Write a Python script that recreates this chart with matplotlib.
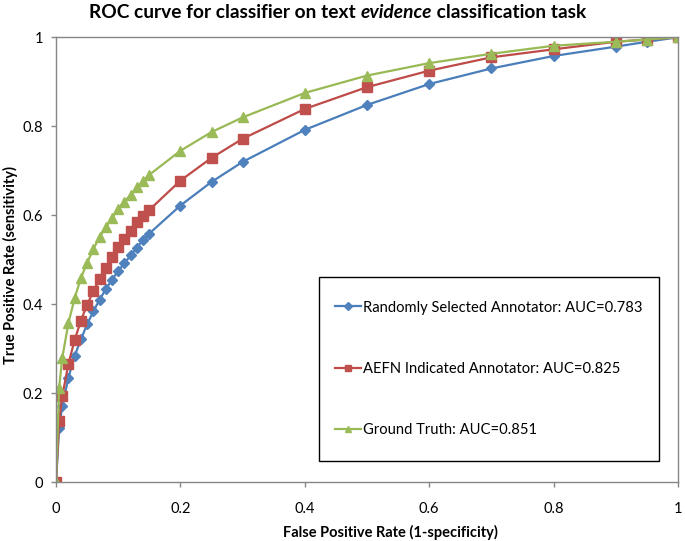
import matplotlib
matplotlib.use("Agg")
import matplotlib.pyplot as plt
from matplotlib.patches import Rectangle

# false positive rates shared by all three curves
fpr = [0, 0.005, 0.01, 0.02, 0.03, 0.04, 0.05, 0.06, 0.07, 0.08, 0.09, 0.10,
       0.11, 0.12, 0.13, 0.14, 0.15, 0.2, 0.25, 0.3, 0.4, 0.5, 0.6, 0.7, 0.8,
       0.9, 0.95, 1.0]

tpr_random = [0, 0.123, 0.171, 0.235, 0.284, 0.321, 0.355, 0.384, 0.41, 0.434,
              0.455, 0.475, 0.492, 0.51, 0.527, 0.545, 0.559, 0.622, 0.675,
              0.72, 0.792, 0.848, 0.895, 0.93, 0.958, 0.979, 0.99, 1.0]
tpr_aefn = [0, 0.137, 0.193, 0.266, 0.32, 0.363, 0.399, 0.429, 0.457, 0.482,
            0.506, 0.528, 0.547, 0.565, 0.584, 0.599, 0.612, 0.678, 0.729,
            0.772, 0.839, 0.888, 0.925, 0.955, 0.973, 0.99, 0.995, 1.0]
tpr_truth = [0, 0.212, 0.279, 0.358, 0.414, 0.459, 0.493, 0.524, 0.551, 0.573,
             0.594, 0.614, 0.631, 0.646, 0.663, 0.676, 0.691, 0.745, 0.787,
             0.82, 0.875, 0.914, 0.942, 0.963, 0.981, 0.99, 0.995, 1.0]

labels = ["Randomly Selected Annotator: AUC=0.783",
          "AEFN Indicated Annotator: AUC=0.825",
          "Ground Truth: AUC=0.851"]
ticks = [0, 0.2, 0.4, 0.6, 0.8, 1]
tick_labels = ["0", "0.2", "0.4", "0.6", "0.8", "1"]

plt.rcParams['font.family'] = ['Lato', 'DejaVu Sans']

W, H = 685, 541
fig = plt.figure(figsize=(W / 100, H / 100), dpi=100)
ax = fig.add_axes([56 / W, 1 - 482.3 / H, 622 / W, 445 / H])

ax.plot(fpr, tpr_random, color='#4A7EBB', lw=1.6, marker='D', ms=5,
        mfc='#4F81BD', mec='#4F81BD', label=labels[0])
ax.plot(fpr, tpr_aefn, color='#BE4B48', lw=1.6, marker='s', ms=6.8,
        mfc='#C0504D', mec='#C0504D', label=labels[1])
ax.plot(fpr, tpr_truth, color='#98B954', lw=1.6, marker='^', ms=7,
        mfc='#9BBB59', mec='#9BBB59', label=labels[2])

ax.set_xlim(0, 1)
ax.set_ylim(0, 1)
ax.set_xticks(ticks)
ax.set_xticklabels(tick_labels)
ax.set_yticks(ticks)
ax.set_yticklabels(tick_labels)
ax.tick_params(direction='out', length=3.5, width=1, color='#868686',
               labelsize=10.5)
ax.tick_params(axis='x', pad=10.5)
ax.tick_params(axis='y', pad=6)
for s in ax.spines.values():
    s.set_color('#868686')
    s.set_linewidth(1)

ax.set_xlabel("False Positive Rate (1-specificity)", fontsize=10.5,
              fontweight='bold', va='baseline')
ax.xaxis.set_label_coords((390 - 56) / 622, (482.3 - 537) / 445)
ax.set_ylabel("True Positive Rate (sensitivity)", fontsize=10.5,
              fontweight='bold', va='center')
ax.yaxis.set_label_coords((10 - 56) / 622, (482.3 - 265) / 445)

# legend box drawn separately so the padding can differ per direction
ax.add_patch(Rectangle(((319 - 56) / 622, (482.3 - 461) / 445),
                       340 / 622, 184 / 445, transform=ax.transAxes,
                       fill=False, edgecolor='black', lw=1, zorder=5))
leg = ax.legend(loc='center', bbox_to_anchor=((488.5 - 56) / 622,
                                              (482.3 - 369) / 445),
                fontsize=10.65, frameon=False, handlelength=1.76,
                handletextpad=0.12, labelspacing=3.2, borderpad=0,
                borderaxespad=0)
for h in leg.legend_handles:
    h.set_markersize(4.5)

# title with italic word: draw three pieces side by side
renderer = fig.canvas.get_renderer()
parts = [("ROC curve for classifier on text ", 'normal'),
         ("evidence", 'italic'),
         (" classification task", 'normal')]
texts = []
for txt, style in parts:
    texts.append(fig.text(0, 1 - 13 / H, txt, fontsize=13.8,
                          fontweight='bold', style=style, va='center',
                          ha='left'))
widths = [t.get_window_extent(renderer).width for t in texts]
x = 337.5 - sum(widths) / 2
for t, w in zip(texts, widths):
    t.set_x(x / W)
    x += w

fig.savefig("out.png", dpi=100)
